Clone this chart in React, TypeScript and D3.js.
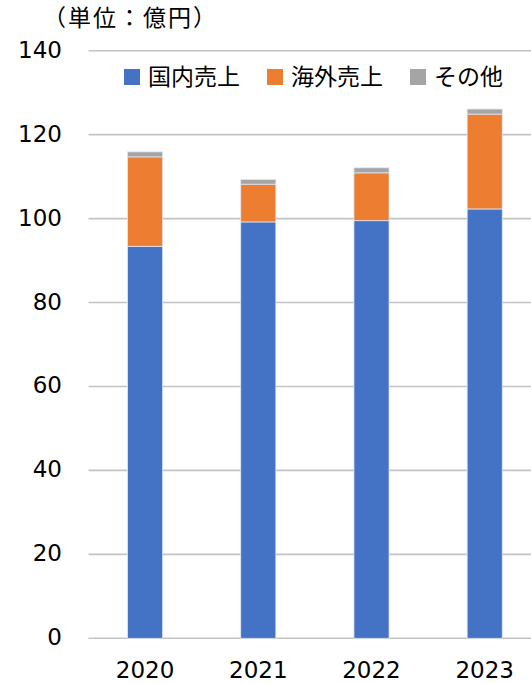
import React from "react";
import * as d3 from "d3";

// Sales by year (unit: 100 million yen)
const years = ["2020", "2021", "2022", "2023"];
const domestic = [93.4, 99.2, 99.5, 102.3];
const overseas = [21.3, 9.0, 11.4, 22.6];
const other = [1.2, 1.1, 1.2, 1.2];

const seriesNames = ["国内売上", "海外売上", "その他"];
const seriesColors = ["#4472C4", "#ED7D31", "#A5A5A5"];
const yTicks = [0, 20, 40, 60, 80, 100, 120, 140];
const unitLabel = "（単位：億円）";

const W = 531;
const H = 683;
const NUM_FONT = "'DejaVu Sans', Verdana, sans-serif";
const CJK_FONT = "'Noto Sans CJK JP', 'Noto Sans', sans-serif";

export default function App() {
  const rows = years.map((y, i) => ({
    year: y,
    domestic: domestic[i],
    overseas: overseas[i],
    other: other[i],
  }));
  const keys = ["domestic", "overseas", "other"];
  const stacked = d3.stack<any>().keys(keys)(rows);

  const x = d3
    .scaleBand<string>()
    .domain(years)
    .range([88.5, 541.3])
    .paddingInner(0.69)
    .paddingOuter(0.345);
  const y = d3.scaleLinear().domain([0, 140]).range([638.3, 50.7]);

  // legend layout: square, gap, label, spacing
  const legendItems = seriesNames.map((name, i) => ({
    name,
    color: seriesColors[i],
    x: 124 + i * (16 + 8 + 92 + 27),
  }));

  return (
    <svg
      width={W}
      height={H}
      style={{ position: "absolute", left: 0, top: 0, background: "#fff" }}
    >
      <text
        x={43}
        y={26}
        fontFamily={CJK_FONT}
        fontSize={23}
        letterSpacing={2}
        fill="#000"
      >
        {unitLabel}
      </text>

      {yTicks.map((t) => (
        <g key={t}>
          <line
            x1={88.5}
            x2={W}
            y1={y(t)}
            y2={y(t)}
            stroke="#c4c4c4"
            strokeWidth={1.6}
          />
          <text
            x={62}
            y={y(t) + 7}
            textAnchor="end"
            fontFamily={NUM_FONT}
            fontSize={23}
            fill="#000"
          >
            {t}
          </text>
        </g>
      ))}

      {stacked.map((s, si) => (
        <g key={s.key} fill={seriesColors[si]}>
          {s.map((d, i) => (
            <rect
              key={years[i]}
              x={x(years[i])}
              width={x.bandwidth()}
              y={y(d[1])}
              height={y(d[0]) - y(d[1])}
              stroke="#dfe6f3"
              strokeWidth={0.8}
            />
          ))}
        </g>
      ))}

      {years.map((yr) => (
        <text
          key={yr}
          x={(x(yr) as number) + x.bandwidth() / 2}
          y={678}
          textAnchor="middle"
          fontFamily={NUM_FONT}
          fontSize={23}
          fill="#000"
        >
          {yr}
        </text>
      ))}

      {legendItems.map((it) => (
        <g key={it.name}>
          <rect x={it.x} y={69} width={16} height={16} fill={it.color} />
          <text
            x={it.x + 24}
            y={85}
            fontFamily={CJK_FONT}
            fontSize={23}
            fill="#000"
          >
            {it.name}
          </text>
        </g>
      ))}
    </svg>
  );
}
